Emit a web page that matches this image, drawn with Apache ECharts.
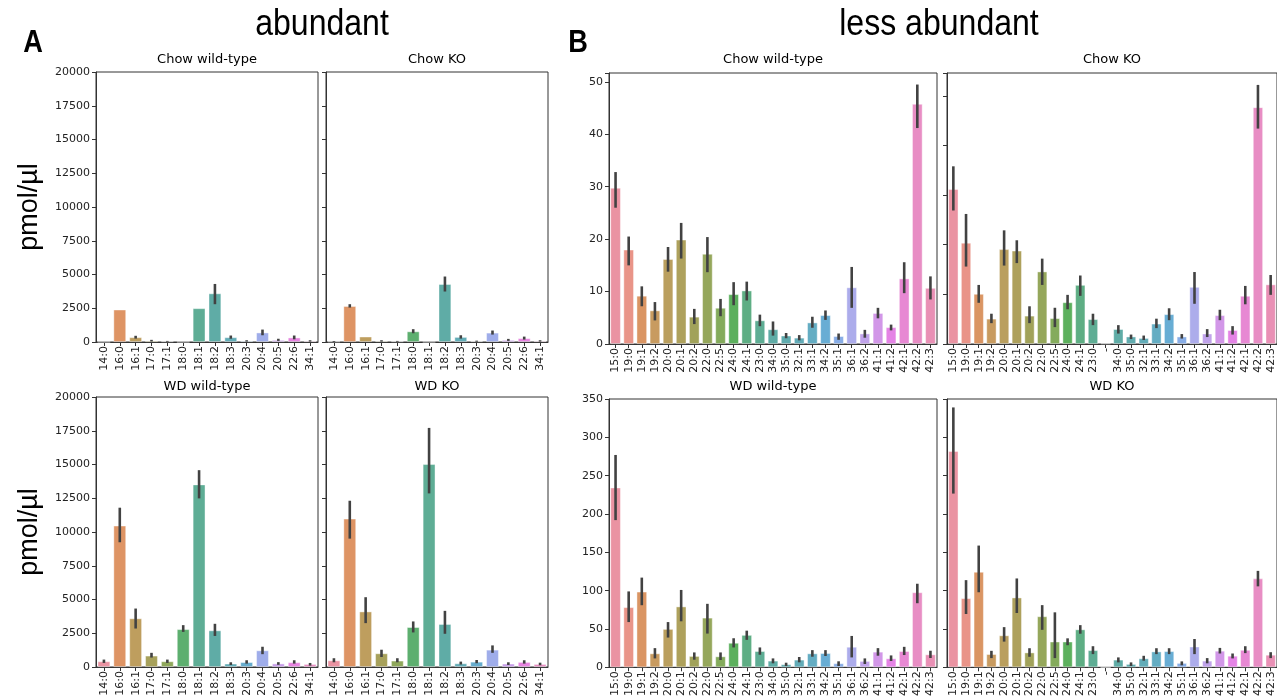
<!DOCTYPE html>
<html><head><meta charset="utf-8">
<script src="https://cdn.jsdelivr.net/npm/echarts@6/dist/echarts.min.js"></script>
<style>html,body{margin:0;padding:0;background:#fff}#c{width:1277px;height:699px}</style>
</head><body><div id="c"></div><script>
// ---------------- DATA ----------------
const catsA = ['14:0','16:0','16:1','17:0','17:1','18:0','18:1','18:2','18:3','20:3','20:4','20:5','22:6','34:1'];
const catsBL = ['15:0','19:0','19:1','19:2','20:0','20:1','20:2','22:0','22:5','24:0','24:1','23:0','34:0','35:0','32:1','33:1','34:2','35:1','36:1','36:2','41:1','41:2','42:1','42:2','42:3'];
const catsBR = ['15:0','19:0','19:1','19:2','20:0','20:1','20:2','22:0','22:5','24:0','24:1','23:0','-','34:0','35:0','32:1','33:1','34:2','35:1','36:1','36:2','41:1','41:2','42:1','42:2','42:3'];

const yTicksA = [0, 2500, 5000, 7500, 10000, 12500, 15000, 17500, 20000];
const yTicksBChow = [0, 10, 20, 30, 40, 50];
const yTicksBWD = [0, 50, 100, 150, 200, 250, 300, 350];

// abundant – Chow wild-type
const aChowWT   = [0, 2400, 350, 100, 50, 0, 2500, 3600, 350, 80, 700, 150, 330, 80];
const aChowWTLo = [0, 2400, 250, 40, 20, 0, 2500, 2800, 240, 30, 500, 80, 200, 30];
const aChowWTHi = [0, 2400, 460, 160, 80, 0, 2500, 4300, 480, 130, 920, 240, 480, 130];
// abundant – Chow KO
const aChowKO   = [30, 2660, 400, 80, 50, 785, 0, 4290, 370, 60, 690, 150, 280, 80];
const aChowKOLo = [0, 2550, 400, 30, 20, 650, 0, 3740, 250, 20, 550, 80, 180, 30];
const aChowKOHi = [60, 2800, 400, 130, 80, 950, 0, 4850, 500, 100, 850, 230, 400, 130];
// abundant – WD wild-type
const aWDWT   = [420, 10470, 3600, 840, 420, 2800, 13520, 2710, 250, 360, 1230, 260, 350, 220];
const aWDWTLo = [300, 9240, 2850, 700, 300, 2600, 12490, 2300, 150, 250, 950, 160, 250, 100];
const aWDWTHi = [550, 11800, 4330, 1050, 550, 3100, 14580, 3200, 350, 500, 1500, 360, 500, 300];
// abundant – WD KO
const aWDKO   = [490, 10985, 4110, 1010, 470, 2955, 15025, 3180, 270, 390, 1280, 250, 370, 220];
const aWDKOLo = [350, 9510, 3250, 740, 350, 2560, 12860, 2460, 180, 280, 1050, 150, 250, 130];
const aWDKOHi = [650, 12315, 5170, 1280, 650, 3375, 17710, 4160, 400, 520, 1600, 350, 500, 320];

// less abundant – Chow wild-type
const bChowWT   = [29.8,18.0,9.2,6.4,16.2,19.9,5.2,17.2,6.9,9.5,10.2,4.5,2.8,1.6,1.2,4.1,5.5,1.5,10.8,2.0,5.9,3.2,12.5,45.8,10.7];
const bChowWTLo = [26.0,15.0,7.2,4.5,13.8,16.3,3.8,13.7,5.3,7.4,8.3,3.4,1.6,1.1,0.7,3.1,4.6,0.8,6.9,1.2,4.9,2.6,9.7,41.2,8.5];
const bChowWTHi = [32.8,20.5,11.0,8.0,18.5,23.1,6.7,20.4,8.6,11.8,11.9,5.6,4.3,2.1,1.7,5.2,6.4,2.0,14.7,2.7,6.9,3.7,15.6,49.5,12.9];
// less abundant – Chow KO
const bChowKO   = [31.2,20.4,10.1,5.1,19.1,18.8,5.7,14.6,5.2,8.4,11.9,5.0,0.1,3.0,1.5,1.2,4.1,6.0,1.5,11.5,2.1,5.8,2.8,9.7,47.7,12.0];
const bChowKOLo = [26.9,15.6,8.3,4.2,15.8,16.3,4.2,11.9,3.4,7.0,9.7,3.8,0.1,2.1,1.0,0.8,3.2,4.8,1.1,8.1,1.4,4.8,1.9,8.0,43.4,9.9];
const bChowKOHi = [35.8,26.2,11.9,6.1,22.9,20.9,7.6,17.2,7.3,9.9,13.8,6.1,0.1,3.8,1.9,1.7,5.1,7.2,2.0,14.5,3.0,6.9,3.6,11.7,52.2,13.9];
// less abundant – WD wild-type
const bWDWT   = [234.5,78.4,98.7,18.1,50,79.3,14.7,64.7,14.2,31.9,42.2,21.1,8.6,3.9,9.9,18.1,18.5,5.2,26.7,8.2,20.3,11.6,21.1,97.8,16.8];
const bWDWTLo = [192,59,81,11.6,38.8,60,9.9,44,9.5,25.9,35.8,16.4,5.2,1.7,6.5,13.8,14.7,1.7,12.9,4.3,15.1,8.2,16,83.6,12.1];
const bWDWTHi = [277,99,117,25,59,100.9,19.4,82.8,19.4,37.9,47.8,25.9,11.6,6,13.4,22.4,22.4,7.8,40.9,11.6,25,15.5,26.7,109,21.6];
// less abundant – WD KO
const bWDKO   = [282,90.1,124.5,17.2,41.6,91,19.3,66.5,33.5,33.5,49.4,22.3,0,9.9,4.3,11.6,20.6,21,5.6,27,8.6,21.5,15,22.7,115.9,16.3];
const bWDKOLo = [226.6,69.5,97.9,12,33.5,70.8,13.7,48.9,12,28.8,43.8,17.2,0,6.4,1.7,8.6,17.2,17.2,2.6,17.2,5.2,18,11.6,18.5,105.6,12];
const bWDKOHi = [339,113.7,158.8,21.5,52.4,115.9,24.9,81.1,71.7,37.8,55,27.5,0,12.9,6.4,15,24.9,24.9,7.7,36.9,12,25.3,18,27.5,125.8,19.7];

// ---------------- HUSL palette (seaborn style) ----------------
const M = [[3.2406,-1.5372,-0.4986],[-0.9689,1.8758,0.0415],[0.0557,-0.2040,1.0570]];
function maxChroma(L, H) {
  const hr = H * Math.PI / 180, sinH = Math.sin(hr), cosH = Math.cos(hr);
  const sub1 = Math.pow(L + 16, 3) / 1560896.0;
  const sub2 = sub1 > 0.008856 ? sub1 : L / 903.3;
  let res = Infinity;
  for (const [m1, m2, m3] of M) {
    const top = (0.99915*m1 + 1.05122*m2 + 1.14460*m3) * sub2;
    const rb = 0.86330*m3 - 0.17266*m2;
    const lb = 0.12949*m3 - 0.38848*m1;
    const bottom = (rb*sinH + lb*cosH) * sub2;
    for (const t of [0, 1]) {
      const C = L * (top - 1.05122*t) / (bottom + 0.17266*sinH*t);
      if (C > 0 && C < res) res = C;
    }
  }
  return res;
}
function huslToRgb(H, S, L) {
  const C = maxChroma(L, H) / 100 * S;
  const hr = H * Math.PI / 180;
  const U = Math.cos(hr) * C, V = Math.sin(hr) * C;
  const t = (L + 16) / 116;
  const varY = Math.pow(t, 3) > 0.008856 ? Math.pow(t, 3) : (116*t - 16) / 903.3;
  const varU = U / (13*L) + 0.19784, varV = V / (13*L) + 0.46834;
  const Y = varY;
  const X = -(9*Y*varU) / ((varU - 4)*varV - varU*varV);
  const Z = (9*Y - 15*varV*Y - varV*X) / (3*varV);
  return M.map(r => {
    const c = r[0]*X + r[1]*Y + r[2]*Z;
    const v = c <= 0.0031308 ? 12.92*c : 1.055*Math.pow(c, 1/2.4) - 0.055;
    return Math.min(1, Math.max(0, v));
  });
}
function rgbToHls(r, g, b) {
  const mx = Math.max(r, g, b), mn = Math.min(r, g, b), l = (mx + mn) / 2;
  if (mx === mn) return [0, l, 0];
  const s = l <= 0.5 ? (mx - mn) / (mx + mn) : (mx - mn) / (2 - mx - mn);
  const rc = (mx - r) / (mx - mn), gc = (mx - g) / (mx - mn), bc = (mx - b) / (mx - mn);
  let h = r === mx ? bc - gc : (g === mx ? 2 + rc - bc : 4 + gc - rc);
  h = ((h / 6) % 1 + 1) % 1;
  return [h, l, s];
}
function hv(m1, m2, h) {
  h = ((h % 1) + 1) % 1;
  if (h < 1/6) return m1 + (m2 - m1) * h * 6;
  if (h < 0.5) return m2;
  if (h < 2/3) return m1 + (m2 - m1) * (2/3 - h) * 6;
  return m1;
}
function hlsToRgb(h, l, s) {
  if (s === 0) return [l, l, l];
  const m2 = l <= 0.5 ? l * (1 + s) : l + s - l * s, m1 = 2 * l - m2;
  return [hv(m1, m2, h + 1/3), hv(m1, m2, h), hv(m1, m2, h - 1/3)];
}
function palette(n) {
  const out = [];
  for (let i = 0; i < n; i++) {
    let h = (i / n + 0.01) % 1;
    const rgb = huslToRgb(h * 359, 0.9 * 99, 0.65 * 99);
    const [hh, ll, ss] = rgbToHls(...rgb);
    const d = hlsToRgb(hh, ll, ss * 0.75);
    out.push('rgb(' + d.map(v => Math.round(v * 255)).join(',') + ')');
  }
  return out;
}
const palA = palette(catsA.length);
const palB = palette(catsBR.length);
// left B panels lack the 13th category of the full list: map colours by category name
const palBL = catsBL.map(c => palB[catsBR.indexOf(c)]);

// ---------------- PANELS ----------------
const panels = [
  {cats: catsA, pal: palA, v: aChowWT, lo: aChowWTLo, hi: aChowWTHi, ticks: yTicksA, max: 20000, lab: true,
   g: {left: 96, top: 72, width: 222, height: 270}},
  {cats: catsA, pal: palA, v: aChowKO, lo: aChowKOLo, hi: aChowKOHi, ticks: yTicksA, max: 20000, lab: false,
   g: {left: 326, top: 72, width: 222, height: 270}},
  {cats: catsA, pal: palA, v: aWDWT, lo: aWDWTLo, hi: aWDWTHi, ticks: yTicksA, max: 20000, lab: true,
   g: {left: 96, top: 397, width: 222, height: 270}},
  {cats: catsA, pal: palA, v: aWDKO, lo: aWDKOLo, hi: aWDKOHi, ticks: yTicksA, max: 20000, lab: false,
   g: {left: 326, top: 397, width: 222, height: 270}},
  {cats: catsBL, pal: palBL, v: bChowWT, lo: bChowWTLo, hi: bChowWTHi, ticks: yTicksBChow, max: 51.7, lab: true,
   g: {left: 609, top: 73, width: 328, height: 271}},
  {cats: catsBR, pal: palB, v: bChowKO, lo: bChowKOLo, hi: bChowKOHi, ticks: yTicksBChow, max: 54.6, lab: false,
   g: {left: 947, top: 73, width: 331, height: 271}},
  {cats: catsBL, pal: palBL, v: bWDWT, lo: bWDWTLo, hi: bWDWTHi, ticks: yTicksBWD, max: 350, lab: true,
   g: {left: 609, top: 399, width: 328, height: 271}},
  {cats: catsBR, pal: palB, v: bWDKO, lo: bWDKOLo, hi: bWDKOHi, ticks: yTicksBWD, max: 350, lab: false,
   g: {left: 947, top: 399, width: 331, height: 271}}
];

const axisColor = '#333';
const textColor = '#222';
const grids = [], xAxes = [], yAxes = [], series = [];
panels.forEach((p, i) => {
  const interval = p.ticks[1] - p.ticks[0];
  grids.push(Object.assign({show: true, borderColor: axisColor, borderWidth: 1, containLabel: false}, p.g));
  xAxes.push({
    type: 'category', gridIndex: i, data: p.cats, boundaryGap: true,
    axisLine: {show: true, lineStyle: {color: axisColor, width: 1}},
    axisTick: {show: true, alignWithLabel: true, length: 4, lineStyle: {color: axisColor}},
    axisLabel: {rotate: 90, interval: 0, fontSize: 11, color: textColor, margin: 4, fontFamily: 'DejaVu Sans'},
    splitLine: {show: false}
  });
  yAxes.push({
    type: 'value', gridIndex: i, min: 0, max: p.max, interval: interval,
    axisLine: {show: true, lineStyle: {color: axisColor, width: 1}},
    axisTick: {show: true, length: 4, lineStyle: {color: axisColor}},
    axisLabel: {show: p.lab, fontSize: 11, color: textColor, margin: 6, fontFamily: 'DejaVu Sans',
      formatter: v => (p.ticks.indexOf(v) >= 0 ? String(v) : '')},
    splitLine: {show: false}
  });
  series.push({
    type: 'bar', xAxisIndex: i, yAxisIndex: i, barCategoryGap: '20%',
    data: p.v.map((val, k) => ({value: val, itemStyle: {color: p.pal[k]}})),
    itemStyle: {borderColor: 'rgba(255,255,255,0.6)', borderWidth: 0.8, opacity: 0.86},
    silent: true, animation: false
  });
  series.push({
    type: 'custom', xAxisIndex: i, yAxisIndex: i, z: 5, animation: false, silent: true,
    data: p.cats.map((c, k) => [k, p.lo[k], p.hi[k]]),
    encode: {x: 0, y: [1, 2]},
    renderItem: (params, api) => {
      const x = api.value(0), lo = api.value(1), hi = api.value(2);
      if (!(hi > lo)) return null;
      const a = api.coord([x, lo]), b = api.coord([x, hi]);
      return {type: 'line', shape: {x1: a[0], y1: a[1], x2: b[0], y2: b[1]},
        style: {stroke: '#424242', lineWidth: 2.6}};
    }
  });
});

function txt(x, y, text, font, rot, sx) {
  return {type: 'text', x: x, y: y, rotation: rot || 0, scaleX: sx || 1, silent: true,
    style: {text: text, font: font, fill: '#000', textAlign: 'center', textVerticalAlign: 'middle'}};
}
const subFont = '13px "DejaVu Sans"';
const headFont = '36px "Liberation Sans"';
const graphics = [
  txt(322, 25, 'abundant', headFont, 0, 0.89),
  txt(939, 25, 'less abundant', headFont, 0, 0.89),
  txt(33, 43, 'A', 'bold 32px "Liberation Sans"', 0, 0.85),
  txt(578, 43, 'B', 'bold 32px "Liberation Sans"', 0, 0.85),
  txt(207, 60, 'Chow wild-type', subFont),
  txt(437, 60, 'Chow KO', subFont),
  txt(207, 387, 'WD wild-type', subFont),
  txt(437, 387, 'WD KO', subFont),
  txt(773, 60, 'Chow wild-type', subFont),
  txt(1112, 60, 'Chow KO', subFont),
  txt(773, 387, 'WD wild-type', subFont),
  txt(1112, 387, 'WD KO', subFont),
  txt(30, 207, 'pmol/µl', '27px "Liberation Sans"', Math.PI / 2),
  txt(30, 532, 'pmol/µl', '27px "Liberation Sans"', Math.PI / 2)
];

const chart = echarts.init(document.getElementById('c'), null, {renderer: 'canvas'});
chart.setOption({
  backgroundColor: '#fff', animation: false,
  grid: grids, xAxis: xAxes, yAxis: yAxes, series: series, graphic: graphics
});
</script></body></html>
